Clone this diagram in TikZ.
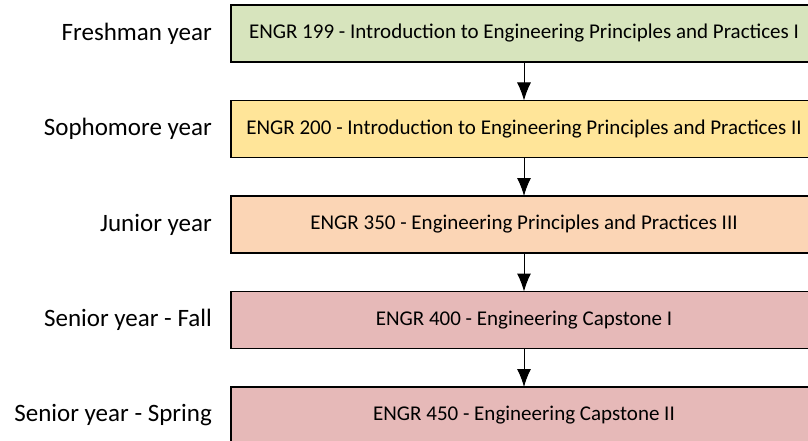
\documentclass[tikz,border=0pt]{standalone}
\usepackage{fontspec}
\setmainfont{Carlito}
\usetikzlibrary{positioning,arrows.meta}

\definecolor{fresh}{HTML}{D7E4BD}
\definecolor{soph}{HTML}{FFE599}
\definecolor{junior}{HTML}{FBD5B5}
\definecolor{senior}{HTML}{E6B9B8}

\tikzset{
  course/.style={draw=black, line width=1.4pt, outer sep=0pt,
    minimum width=586pt, minimum height=57pt, font=\fontsize{21}{24}\selectfont},
  year/.style={inner sep=0pt, anchor=east, font=\fontsize{25}{29}\selectfont},
  flow/.style={->, line width=1pt}
}

\begin{document}
\begin{tikzpicture}[x=1pt,y=1pt,>={Latex[length=18pt,width=14pt]}]
            \useasboundingbox (0,0) rectangle (808,-441);

            % course boxes, one per year
            \node[course, fill=fresh] (c199) at (524,-33.5)
              {ENGR 199 - Introduction to Engineering Principles and Practices I};
            \node[course, fill=soph, below=38.5pt of c199] (c200)
              {ENGR 200 - Introduction to Engineering Principles and Practices II};
            \node[course, fill=junior, below=38.5pt of c200] (c350)
              {ENGR 350 - Engineering Principles and Practices III};
            \node[course, fill=senior, below=38.5pt of c350] (c400)
              {ENGR 400 - Engineering Capstone I};
            \node[course, fill=senior, below=38.5pt of c400] (c450)
              {ENGR 450 - Engineering Capstone II};

            % year labels
            \node[year, left=19pt of c199] (freshman) {Freshman year};
            \node[year, left=19pt of c200] (sophomore) {Sophomore year};
            \node[year, left=19pt of c350] (junior) {Junior year};
            \node[year, left=19pt of c400] (fall) {Senior year - Fall};
            \node[year, left=19pt of c450] (spring) {Senior year - Spring};

            % prerequisites
            \draw[flow] (c199) -- (c200);
            \draw[flow] (c200) -- (c350);
            \draw[flow] (c350) -- (c400);
            \draw[flow] (c400) -- (c450);
\end{tikzpicture}
\end{document}
